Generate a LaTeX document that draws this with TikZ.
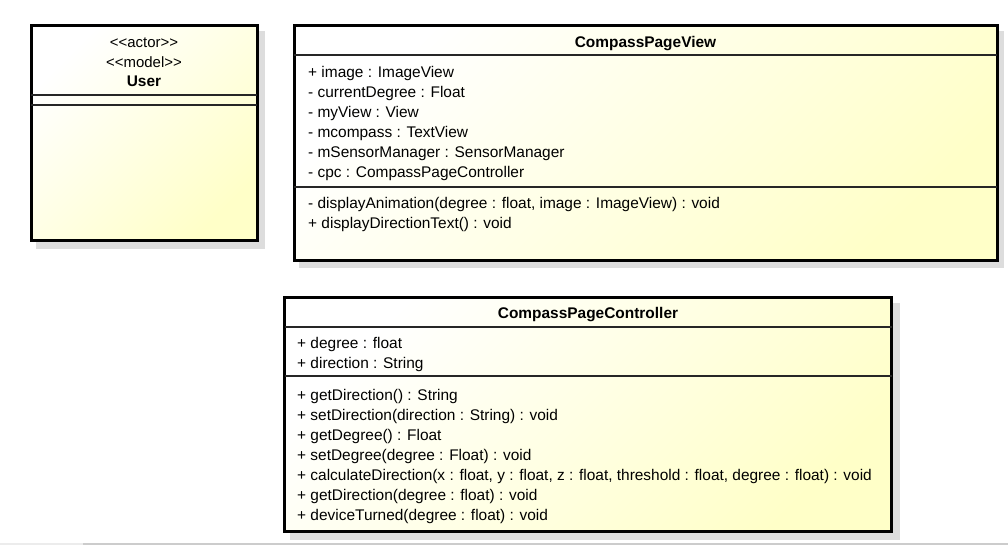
\documentclass[tikz,border=0pt]{standalone}
\usepackage{fontspec}
\setmainfont{Liberation Sans}
\definecolor{umly}{RGB}{255,255,200}
\definecolor{shadowc}{RGB}{221,221,221}
\definecolor{baseline1}{RGB}{236,236,236}
\definecolor{baseline2}{RGB}{204,204,204}
\tikzset{
  clsbox/.style={draw=black, line width=3bp, top color=white, bottom color=umly, shading angle=45},
  shadowbox/.style={fill=shadowc, draw=none},
  divider/.style={draw=black!85, line width=1.2bp},
  txt/.style={anchor=base west, inner sep=0pt, font=\fontsize{15.5}{18}\selectfont},
  stereo/.style={anchor=base, inner sep=0pt, font=\fontsize{15}{18}\selectfont},
  ttl/.style={anchor=base, inner sep=0pt, font=\fontsize{15.5}{18}\selectfont\bfseries},
}
\begin{document}
\begin{tikzpicture}[x=1bp, y=-1bp]
\useasboundingbox (0,0) rectangle (1008,546);
% bottom rule
\draw[baseline1, line width=1.5bp] (0,544) -- (83,544);
\draw[baseline2, line width=1.5bp] (83,544) -- (1008,544);
% shadows
\fill[shadowbox] (36,31) rectangle (265,249);
\fill[shadowbox] (299,31) rectangle (1004,268);
\fill[shadowbox] (290,303) rectangle (900,540);
% User
\draw[clsbox] (31,26) rectangle (257,241);
\draw[divider] (31,95) -- (257,95);
\draw[divider] (31,105) -- (257,105);
\node[stereo] (u1) at (144,48) {<\kern0pt<actor>\kern0pt>};
\node[stereo] (u2) at (144,68) {<\kern0pt<model>\kern0pt>};
\node[ttl] (u3) at (144,87) {User};
% CompassPageView
\draw[clsbox] (294,26) rectangle (997,261);
\draw[divider] (294,55) -- (997,55);
\draw[divider] (294,187) -- (997,187);
\node[ttl] (v0) at (645.5,48) {CompassPageView};
\node[txt] (v1) at (308,78) {+ image : ImageView};
\node[txt] (v2) at (308,98) {- currentDegree : Float};
\node[txt] (v3) at (308,118) {- myView : View};
\node[txt] (v4) at (308,138) {- mcompass : TextView};
\node[txt] (v5) at (308,158) {- mSensorManager : SensorManager};
\node[txt] (v6) at (308,178) {- cpc : CompassPageController};
\node[txt] (v7) at (308,209) {- displayAnimation(degree : float, image : ImageView) : void};
\node[txt] (v8) at (308,229) {+ displayDirectionText() : void};
% CompassPageController
\draw[clsbox] (284.5,298) rectangle (891.7,531.7);
\draw[divider] (284.5,327) -- (891.7,327);
\draw[divider] (284.5,376) -- (891.7,376);
\node[ttl] (c0) at (588,319) {CompassPageController};
\node[txt] (c1) at (297,349) {+ degree : float};
\node[txt] (c2) at (297,369) {+ direction : String};
\node[txt] (c3) at (297,400) {+ getDirection() : String};
\node[txt] (c4) at (297,420) {+ setDirection(direction : String) : void};
\node[txt] (c5) at (297,440) {+ getDegree() : Float};
\node[txt] (c6) at (297,460) {+ setDegree(degree : Float) : void};
\node[txt] (c7) at (297,480) {+ calculateDirection(x : float, y : float, z : float, threshold : float, degree : float) : void};
\node[txt] (c8) at (297,500) {+ getDirection(degree : float) : void};
\node[txt] (c9) at (297,520) {+ deviceTurned(degree : float) : void};
\end{tikzpicture}
\end{document}
